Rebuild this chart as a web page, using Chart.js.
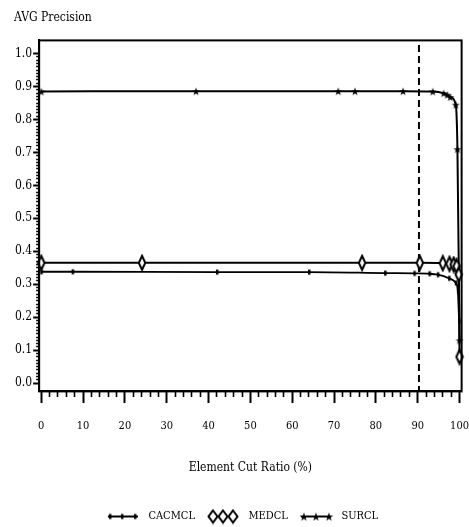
<!DOCTYPE html>
<html><head><meta charset="utf-8">
<script src="https://cdn.jsdelivr.net/npm/chart.js@4.4.1/dist/chart.umd.min.js"></script>
<style>html,body{margin:0;padding:0;background:#fff}</style>
</head><body>
<canvas id="c" width="469" height="527"></canvas>
<script>
// ---- data ----
const seriesNames = ['CACMCL', 'MEDCL', 'SURCL'];
const cacmclX = [0, 7.5, 42, 64, 82.2, 89.2, 92.8, 94.8, 97.5, 99.1, 99.6, 99.9];
const cacmclY = [0.338, 0.338, 0.337, 0.337, 0.334, 0.333, 0.332, 0.329, 0.318, 0.304, 0.279, 0.188];
const medclX = [0, 24.1, 76.7, 90.5, 96, 97.6, 98.6, 99.3, 99.8, 100];
const medclY = [0.365, 0.365, 0.365, 0.365, 0.364, 0.362, 0.360, 0.355, 0.330, 0.080];
const surclX = [0, 37, 71, 75, 86.5, 93.6, 96.2, 97.1, 97.8, 99.1, 99.5, 100];
const surclY = [0.885, 0.886, 0.886, 0.886, 0.886, 0.885, 0.880, 0.875, 0.868, 0.845, 0.710, 0.130];
const cutX = [90.3, 90.3];
const cutY = [-0.03, 1.05];
const xTickValues = [];
for (let i = 0; i <= 50; i++) xTickValues.push(i * 2);
const yTickValues = [];
for (let i = 0; i <= 100; i++) yTickValues.push(i / 100);
const xTitle = 'Element Cut Ratio (%)';
const yTitle = 'AVG Precision';

const FONT = "'DejaVu Serif Condensed', 'Liberation Mono', monospace";
const pts = (xs, ys) => xs.map((x, i) => ({x: x, y: ys[i]}));

// ---- marker images ----
function mk(w, h, fn) { const c = document.createElement('canvas'); c.width = w; c.height = h; fn(c.getContext('2d'), w, h); return c; }
function drawDiamond(g, cx, cy, w, h) {
  g.beginPath(); g.moveTo(cx, cy - h / 2); g.lineTo(cx + w / 2, cy); g.lineTo(cx, cy + h / 2); g.lineTo(cx - w / 2, cy); g.closePath();
  g.fillStyle = '#fff'; g.fill(); g.lineWidth = 2; g.strokeStyle = '#000'; g.stroke();
}
function drawStar(g, cx, cy, r) {
  g.beginPath();
  for (let i = 0; i < 10; i++) {
    const a = -Math.PI / 2 + i * Math.PI / 5; const rr = i % 2 ? r * 0.4 : r;
    g.lineTo(cx + rr * Math.cos(a), cy + rr * Math.sin(a));
  }
  g.closePath(); g.fillStyle = '#000'; g.fill();
}
function drawTick(g, cx, cy) { g.fillStyle = '#000'; g.fillRect(cx - 1, cy - 2.5, 2.5, 5); }
const diamondImg = mk(10, 18, (g, w, h) => drawDiamond(g, w / 2, h / 2, 6.5, 14));
const starImg = mk(10, 10, (g, w, h) => drawStar(g, w / 2, h / 2 + 0.5, 4.2));
const tickImg = mk(6, 8, (g, w, h) => drawTick(g, w / 2, h / 2));
function legendGlyph(kind) {
  return mk(34, 16, (g, w, h) => {
    g.strokeStyle = '#000'; g.lineWidth = 2; g.beginPath(); g.moveTo(1, 8); g.lineTo(31, 8); g.stroke();
    if (kind === 0) { [3, 15, 28].forEach(x => drawTick(g, x, 8)); }
    if (kind === 1) { [6, 16, 26].forEach(x => drawDiamond(g, x, 8, 9, 12)); }
    if (kind === 2) { [4, 16, 29].forEach(x => drawStar(g, x, 8.5, 4.5)); }
  });
}
const legendGlyphs = [legendGlyph(0), legendGlyph(1), legendGlyph(2)];

const framePlugin = {
  id: 'frame',
  afterDraw(chart) {
    const a = chart.chartArea, ctx = chart.ctx;
    ctx.save(); ctx.strokeStyle = '#000'; ctx.lineWidth = 2;
    ctx.strokeRect(a.left, a.top, a.right - a.left, a.bottom - a.top);
    ctx.restore();
  }
};

const common = { borderColor: '#000', backgroundColor: '#000', fill: false, cubicInterpolationMode: 'monotone', clip: false };

new Chart(document.getElementById('c'), {
  type: 'line',
  data: {
    datasets: [
      Object.assign({ label: seriesNames[0], data: pts(cacmclX, cacmclY), borderWidth: 1.8, pointStyle: tickImg }, common),
      Object.assign({ label: seriesNames[1], data: pts(medclX, medclY), borderWidth: 2, pointStyle: diamondImg }, common),
      Object.assign({ label: seriesNames[2], data: pts(surclX, surclY), borderWidth: 2, pointStyle: starImg }, common),
      { label: 'cut', data: pts(cutX, cutY), borderColor: '#000', borderWidth: 2, borderDash: [7, 4], pointRadius: 0, fill: false }
    ]
  },
  options: {
    responsive: false,
    animation: false,
    events: [],
    layout: { padding: { left: 14, right: 0, top: 7, bottom: -5 } },
    plugins: {
      tooltip: { enabled: false },
      title: { display: true, text: yTitle, align: 'start', color: '#000', font: { family: FONT, size: 12, weight: 'normal' }, padding: { top: 4, bottom: 15 } },
      legend: {
        position: 'bottom',
        labels: {
          usePointStyle: true, pointStyleWidth: 38, color: '#000', padding: 10,
          font: { family: FONT, size: 11 },
          generateLabels: () => seriesNames.map((n, i) => ({ text: n, pointStyle: legendGlyphs[i], fillStyle: '#000', strokeStyle: '#000', lineWidth: 0, hidden: false, datasetIndex: i, fontColor: '#000' }))
        }
      }
    },
    scales: {
      x: {
        type: 'linear', min: -0.5, max: 100.5,
        afterBuildTicks: s => { s.ticks = xTickValues.map(v => ({ value: v })); },
        ticks: { autoSkip: false, maxRotation: 0, color: '#000', padding: 0, font: { family: FONT, size: 11 },
          callback: v => (Math.round(v) % 10 === 0 ? String(Math.round(v)) : '') },
        grid: { drawOnChartArea: false, tickLength: 28, tickColor: '#000',
          tickWidth: c => (Math.round(c.tick.value) % 10 === 0 ? 2 : 1.6),
          tickBorderDash: c => (Math.round(c.tick.value) % 10 === 0 ? [11, 100] : [5, 100]) },
        border: { display: true, color: '#000', width: 2 },
        title: { display: true, text: xTitle, color: '#000', font: { family: FONT, size: 12 }, padding: { top: 28, bottom: 26 } }
      },
      y: {
        type: 'linear', min: -0.025, max: 1.04,
        afterBuildTicks: s => { s.ticks = yTickValues.map(v => ({ value: v })); },
        ticks: { autoSkip: false, color: '#000', padding: 1, font: { family: FONT, size: 12 },
          callback: v => (Math.round(v * 100) % 10 === 0 ? v.toFixed(1) : '') },
        grid: { drawOnChartArea: false, tickLength: 6, tickColor: '#000',
          tickWidth: c => (Math.round(c.tick.value * 100) % 10 === 0 ? 2 : 1.4),
          tickBorderDash: c => (Math.round(c.tick.value * 100) % 10 === 0 ? [] : [0, 3, 3, 30]) },
        border: { display: true, color: '#000', width: 2 }
      }
    }
  },
  plugins: [framePlugin]
});
</script>
</body></html>
